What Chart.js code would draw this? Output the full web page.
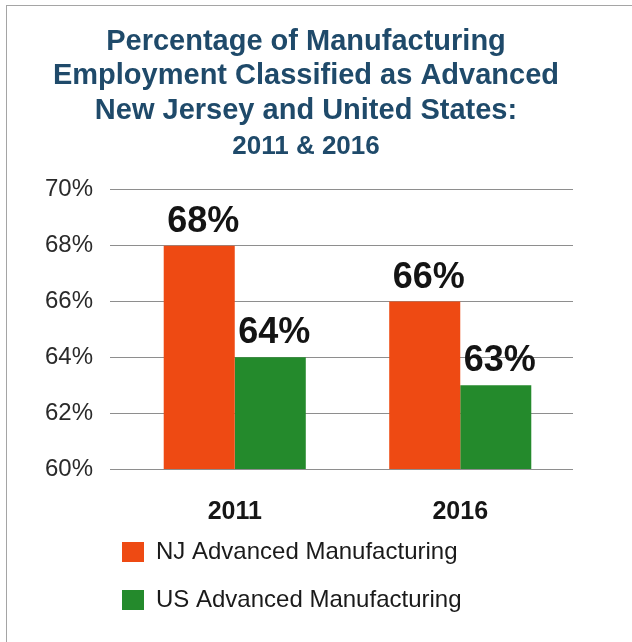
<!DOCTYPE html>
<html>
<head>
<meta charset="utf-8">
<title>Advanced Manufacturing Employment</title>
<script src="https://cdn.jsdelivr.net/npm/chart.js@4.4.1/dist/chart.umd.min.js"></script>
<style>
  html, body { margin: 0; padding: 0; background: #fff; }
  #wrap { position: relative; width: 632px; height: 642px; overflow: hidden; }
  #frame {
    position: absolute; left: 6px; top: 5px; right: -4px; bottom: -4px;
    border-left: 1px solid #a5a5a5; border-top: 1px solid #a5a5a5;
    pointer-events: none;
  }
  canvas { position: absolute; left: 0; top: 0; }
</style>
</head>
<body>
<div id="wrap">
  <canvas id="chart" width="632" height="642"></canvas>
  <div id="frame"></div>
</div>
<script>
/* ---------- data ---------- */
const YEARS     = ['2011', '2016'];
const NJ_VALUES = [68, 66];
const US_VALUES = [64, 63];
const Y_TICKS   = [60, 62, 64, 66, 68, 70];

const SERIES_NAMES = ['NJ Advanced Manufacturing', 'US Advanced Manufacturing'];
const TITLE_LINES  = [
  'Percentage of Manufacturing',
  'Employment Classified as Advanced',
  'New Jersey and United States:',
];
const SUBTITLE = '2011 & 2016';

/* ---------- style ---------- */
const FONT   = "'Liberation Sans', Arial, Helvetica, sans-serif";
const ORANGE = '#ee4a13';
const GREEN  = '#248a2c';
const NAVY   = '#1f4a6a';
const GRID   = '#8e8e8e';

// value labels sitting on top of each bar
const barValueLabels = {
  id: 'barValueLabels',
  afterDatasetsDraw(chart) {
    const ctx = chart.ctx;
    ctx.save();
    ctx.font = `bold 36px ${FONT}`;
    ctx.fillStyle = '#141414';
    ctx.textAlign = 'center';
    ctx.textBaseline = 'alphabetic';
    chart.data.datasets.forEach((ds, i) => {
      chart.getDatasetMeta(i).data.forEach((bar, j) => {
        ctx.fillText(ds.data[j] + '%', bar.x + 4, bar.y - 14);
      });
    });
    ctx.restore();
  },
};

// legend rows start flush with the plot's left edge and sit close under the year labels
const legendPlacement = {
  id: 'legendPlacement',
  afterLayout(chart) {
    const lg = chart.legend;
    const pad = lg.options.labels.padding;
    const h = lg.bottom - lg.top;
    lg.left   = chart.chartArea.left - pad;
    lg.right  = chart.chartArea.right - pad;
    lg.top    = chart.chartArea.bottom + 47;
    lg.bottom = lg.top + h;
  },
};

new Chart(document.getElementById('chart'), {
  type: 'bar',
  data: {
    labels: YEARS,
    datasets: [
      { label: SERIES_NAMES[0], data: NJ_VALUES, backgroundColor: ORANGE },
      { label: SERIES_NAMES[1], data: US_VALUES, backgroundColor: GREEN },
    ],
  },
  options: {
    responsive: false,
    animation: false,
    categoryPercentage: 0.63,
    barPercentage: 1,
    layout: { padding: { left: 10, right: 30, top: 0, bottom: 9 } },
    plugins: {
      title: {
        display: true,
        text: TITLE_LINES,
        color: NAVY,
        font: { family: FONT, size: 29, weight: 'bold', lineHeight: 1.18 },
        padding: { top: 25, bottom: 0 },
      },
      subtitle: {
        display: true,
        text: SUBTITLE,
        color: NAVY,
        font: { family: FONT, size: 26, weight: 'bold', lineHeight: 1.2 },
        padding: { top: 4, bottom: 27 },
      },
      legend: {
        position: 'bottom',
        align: 'start',
        fullSize: false,
        labels: {
          color: '#1a1a1a',
          font: { family: FONT, size: 24 },
          boxWidth: 22,
          boxHeight: 20,
          padding: 24,
        },
      },
      tooltip: { enabled: false },
    },
    scales: {
      x: {
        grid: { display: false, drawTicks: false },
        border: { display: false },
        ticks: { color: '#161616', font: { family: FONT, size: 25, weight: 'bold' }, padding: 28 },
        afterFit(scale) { scale.height = 58; },
      },
      y: {
        min: Y_TICKS[0],
        max: Y_TICKS[Y_TICKS.length - 1],
        afterBuildTicks(scale) { scale.ticks = Y_TICKS.map(v => ({ value: v })); },
        grid: { color: GRID, lineWidth: 1, tickLength: 12, drawTicks: true },
        border: { display: false },
        ticks: {
          color: '#2a2a2a',
          font: { family: FONT, size: 24 },
          padding: 17,
          callback: v => v + '%',
        },
        afterFit(scale) { scale.width = 112; },
      },
      // empty right-hand gutter so the plot stops short of the title's span
      gutter: {
        type: 'linear',
        position: 'right',
        grid: { display: false, drawTicks: false },
        border: { display: false },
        ticks: { display: false },
        afterFit(scale) { scale.width = 29; },
      },
    },
  },
  plugins: [barValueLabels, legendPlacement],
});
</script>
</body>
</html>
